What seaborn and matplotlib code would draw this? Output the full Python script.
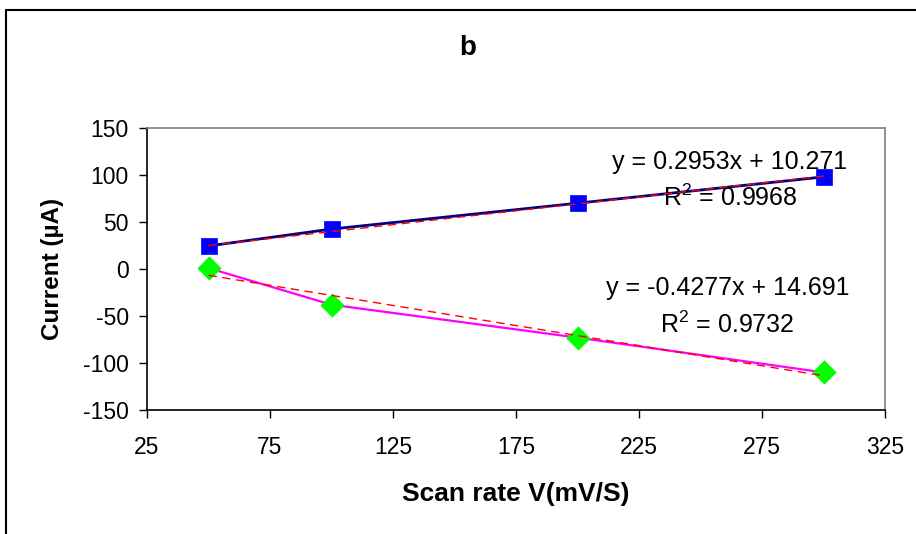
import numpy as np
import pandas as pd
import matplotlib
matplotlib.use("Agg")
import matplotlib.pyplot as plt
import seaborn as sns
from matplotlib.lines import Line2D

# ---- data ----
scan_rate = [50, 100, 200, 300]
anodic = [24.5, 42.5, 70, 98]
cathodic = [1, -38, -73, -110]
fit_anodic = (0.2953, 10.271)
fit_cathodic = (-0.4277, 14.691)
eq_anodic = ["y = 0.2953x + 10.271", "R$^2$ = 0.9968"]
eq_cathodic = ["y = -0.4277x + 14.691", "R$^2$ = 0.9732"]
x_ticks = [25, 75, 125, 175, 225, 275, 325]
y_ticks = [-150, -100, -50, 0, 50, 100, 150]

sns.set_theme(style="white")
plt.rcParams['font.family'] = ['Liberation Sans', 'DejaVu Sans']
plt.rcParams['axes.unicode_minus'] = False
plt.rcParams['mathtext.fontset'] = 'custom'
plt.rcParams['mathtext.rm'] = 'Liberation Sans'
for k in ['text.color', 'axes.labelcolor', 'xtick.color', 'ytick.color']:
    plt.rcParams[k] = 'black'

W, H = 916, 534
fig = plt.figure(figsize=(W/100, H/100), dpi=100)
ax = fig.add_axes([147/W, 1-410/H, 738/W, 282/H])

df = pd.DataFrame({"x": scan_rate, "anodic": anodic, "cathodic": cathodic})

sns.lineplot(data=df, x="x", y="anodic", ax=ax, color="#000080", lw=2, zorder=2)
sns.lineplot(data=df, x="x", y="cathodic", ax=ax, color="#FF00FF", lw=1.6, zorder=2)
sns.scatterplot(data=df, x="x", y="anodic", ax=ax, marker="s", s=120, color="#0000FF",
                edgecolor="#0000FF", linewidth=0.5, zorder=3)
sns.scatterplot(data=df, x="x", y="cathodic", ax=ax, marker="D", s=140, color="#00FF00",
                edgecolor="#00FF00", linewidth=0.5, zorder=3)

xs = np.array([min(scan_rate), max(scan_rate)])
for (m, b) in (fit_anodic, fit_cathodic):
    ax.plot(xs, m*xs + b, color="#FF0000", lw=1, ls=(0, (6, 4)), zorder=4)

ax.set_xlim(25, 325)
ax.set_ylim(-150, 150)
ax.set_xticks(x_ticks)
ax.set_yticks(y_ticks)
ax.tick_params(axis='both', labelsize=16.5, colors='black', length=6, width=1,
               direction='out', bottom=True, left=True)
ax.tick_params(axis='x', pad=13)
ax.tick_params(axis='y', pad=7)
for s in ['left', 'bottom']:
    ax.spines[s].set_color('black')
    ax.spines[s].set_linewidth(1.2)
for s in ['top', 'right']:
    ax.spines[s].set_color('#808080')
    ax.spines[s].set_linewidth(1.2)

ax.set_xlabel("Scan rate V(mV/S)", fontsize=19, fontweight='bold', color='black')
ax.set_ylabel("Current (µA)", fontsize=17.5, fontweight='bold', color='black')
ax.xaxis.set_label_coords(0.5, (410-494)/282)
ax.xaxis.label.set_verticalalignment('center')
ax.yaxis.set_label_coords((53-147)/738, 0.5)
ax.yaxis.label.set_verticalalignment('center')

# equation labels
ax.text(262, 113.5, eq_anodic[0], fontsize=18, ha='center', va='center', color='black')
ax.text(262, 75.5, eq_anodic[1], fontsize=18, ha='center', va='center', color='black')
ax.text(261, -20, eq_cathodic[0], fontsize=18, ha='center', va='center', color='black')
ax.text(261, -59.5, eq_cathodic[1], fontsize=18, ha='center', va='center', color='black')

fig.text(468/W, 1-48/H, "b", fontsize=20, fontweight='bold', ha='center', va='center',
         color='black')

# outer chart frame (partially cropped)
fig.add_artist(Line2D([5.5/W, 5.5/W], [0, 1-9.5/H], transform=fig.transFigure,
                      color='black', lw=1.5))
fig.add_artist(Line2D([5.5/W, 1], [1-9.5/H, 1-9.5/H], transform=fig.transFigure,
                      color='black', lw=1.5))

fig.savefig("out.png", dpi=100)
